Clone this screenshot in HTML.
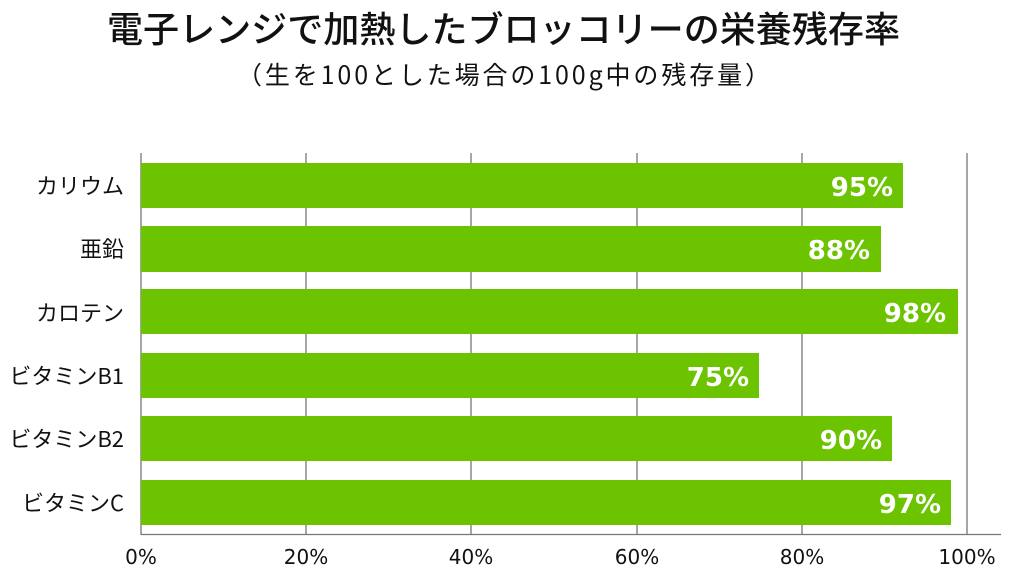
<!DOCTYPE html>
<html><head><meta charset="utf-8"><style>
html,body{margin:0;padding:0;background:#fff;}
body{width:1024px;height:578px;overflow:hidden;position:relative;font-family:"Liberation Sans","Noto Sans CJK JP",sans-serif;}
</style></head><body>
<svg width="1024" height="578" xmlns="http://www.w3.org/2000/svg" style="position:absolute;left:0;top:0">
<g font-family="'Noto Sans CJK JP','Liberation Sans',sans-serif">
<text x="107" y="42" font-size="36" font-weight="500" fill="#111" textLength="793" lengthAdjust="spacingAndGlyphs">電子レンジで加熱したブロッコリーの栄養残存率</text>
<text x="237" y="84" font-size="25" fill="#111" textLength="533" lengthAdjust="spacing">（生を100とした場合の100g中の残存量）</text>
</g>
<g stroke="#777" stroke-width="1.3">
<line x1="306" y1="153" x2="306" y2="534"/>
<line x1="471" y1="153" x2="471" y2="534"/>
<line x1="637" y1="153" x2="637" y2="534"/>
<line x1="802" y1="153" x2="802" y2="534"/>
<line x1="967" y1="153" x2="967" y2="534"/>
<line x1="141" y1="153" x2="141" y2="535"/>
<line x1="141" y1="534.5" x2="1001" y2="534.5"/>
</g>
<g fill="#6cc400">
<rect x="141" y="163" width="762" height="45"/>
<rect x="141" y="226" width="740" height="46"/>
<rect x="141" y="289" width="817" height="45"/>
<rect x="141" y="353" width="618" height="45"/>
<rect x="141" y="416" width="751" height="45"/>
<rect x="141" y="480" width="810" height="45"/>
</g>
<g font-family="'DejaVu Sans','Liberation Sans',sans-serif" font-size="26" font-weight="bold" fill="#fff" text-anchor="end">
<text x="893" y="196">95%</text>
<text x="870" y="259">88%</text>
<text x="946" y="322">98%</text>
<text x="749" y="386">75%</text>
<text x="882" y="449">90%</text>
<text x="941" y="513">97%</text>
</g>
<g font-family="'Noto Sans CJK JP','Liberation Sans',sans-serif" font-size="22" fill="#111" text-anchor="end">
<text x="124" y="194">カリウム</text>
<text x="124" y="257">亜鉛</text>
<text x="124" y="321">カロテン</text>
<text x="124" y="384">ビタミンB1</text>
<text x="124" y="447">ビタミンB2</text>
<text x="124" y="511">ビタミンC</text>
</g>
<g font-family="'DejaVu Sans','Liberation Sans',sans-serif" font-size="20" fill="#111" text-anchor="middle">
<text x="141" y="564">0%</text>
<text x="306" y="564">20%</text>
<text x="471" y="564">40%</text>
<text x="637" y="564">60%</text>
<text x="802" y="564">80%</text>
<text x="967" y="564">100%</text>
</g>
</svg>
</body></html>
